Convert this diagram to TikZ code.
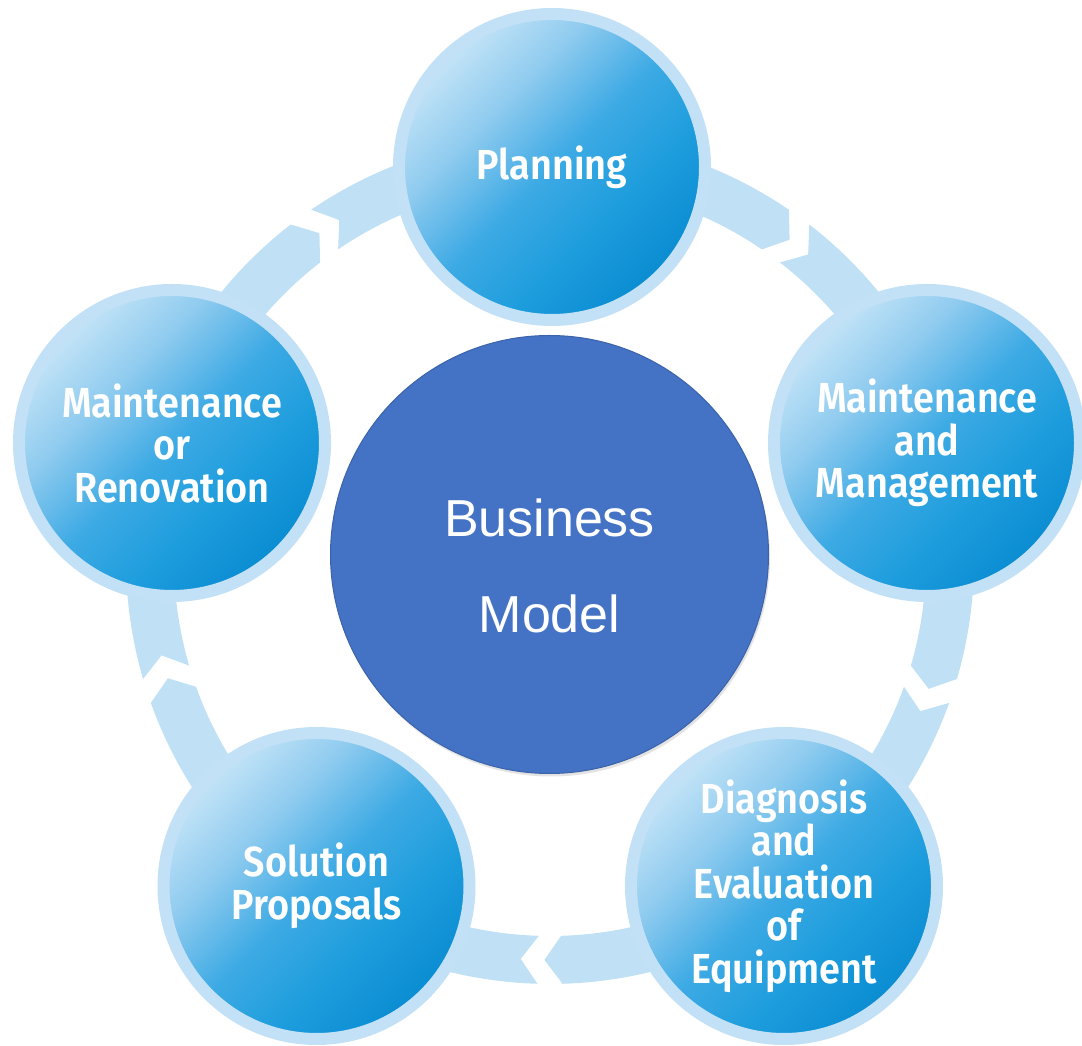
\documentclass[tikz,border=0pt]{standalone}
\usepackage{fontspec}
\setmainfont{Liberation Sans}
\newfontfamily\phasefont[FakeStretch=0.9, BoldFont={Fira Sans SemiBold}]{Fira Sans}
\usetikzlibrary{shadings,shadows}

\definecolor{ringblue}{HTML}{C2E1F6}
\definecolor{bandblue}{HTML}{C0E0F5}
\definecolor{deepblue}{HTML}{0A8CD2}
\definecolor{coreblue}{HTML}{1E9DDD}
\definecolor{midblue}{HTML}{3DAAE4}
\definecolor{paleblue}{HTML}{8FCBEF}
\definecolor{lightblue}{HTML}{C4E4F7}
\definecolor{bmblue}{HTML}{4472C4}
\definecolor{bmedge}{HTML}{3B63A9}

% glossy fill of the phase bubbles: dark at the bottom, light at the top
\pgfdeclareverticalshading{bubble}{100bp}{%
  color(0bp)=(deepblue); color(25bp)=(deepblue); color(38bp)=(coreblue);
  color(50bp)=(midblue); color(63bp)=(paleblue); color(75bp)=(lightblue);
  color(100bp)=(lightblue)}

\tikzset{
  phase/.style={circle, minimum size=306pt, inner sep=0pt,
    draw=ringblue, line width=12pt,
    shade, shading=bubble, shading angle=45,
    text=white, align=center,
    font=\phasefont\bfseries\fontsize{42}{42.5}\selectfont},
  core/.style={circle, minimum size=438pt, inner sep=0pt,
    fill=bmblue, draw=bmedge, line width=1pt,
    drop shadow={shadow xshift=1.5pt, shadow yshift=-3pt, opacity=0.22, fill=gray}},
  coretext/.style={text=white, align=center, inner sep=0pt,
    font=\fontsize{52}{96}\selectfont},
  bandpiece/.style={fill=bandblue}
}

\begin{document}
\begin{tikzpicture}[x=1pt, y=1pt]
  \path[use as bounding box] (0,0) rectangle (1082,1046);
  \clip (0,0) rectangle (1082,1046);

  % cycle band: five arc pieces separated by chevron gaps
  \coordinate (hub) at (550,486);
  \def\Ri{376}\def\Rm{400}\def\Ro{424}
  \def\ga{1.7}\def\gd{2.5}
  \begin{scope}[shift={(hub)}]
    \foreach \g in {126,54,-18,-90,-162}{
      \pgfmathsetmacro\sa{\g-\ga}
      \pgfmathsetmacro\sn{\g-\ga-\gd}
      \pgfmathsetmacro\ea{\g-72+\ga}
      \pgfmathsetmacro\et{\g-72+\ga-\gd}
      \fill[bandpiece] (\sa:\Ro) arc[start angle=\sa, end angle=\ea, radius=\Ro]
        -- (\et:\Rm) -- (\ea:\Ri)
        arc[start angle=\ea, end angle=\sa, radius=\Ri]
        -- (\sn:\Rm) -- cycle;
    }
  \end{scope}

  % phase bubbles
  \node[phase] (plan) at (552,879) {Planning};
  \node[phase] (mm)   at (927,603) {Maintenance\\and\\Management};
  \node[phase] (diag) at (784,160) {Diagnosis\\and\\Evaluation\\of\\Equipment};
  \node[phase] (sol)  at (316.5,160) {Solution\\Proposals};
  \node[phase] (mor)  at (172,603) {Maintenance\\or\\Renovation};

  % central disc
  \node[core] (bm) at (549.5,491.5) {};
  \node[coretext] (bmlabel) at (549.5,480) {Business\\Model};
\end{tikzpicture}
\end{document}
